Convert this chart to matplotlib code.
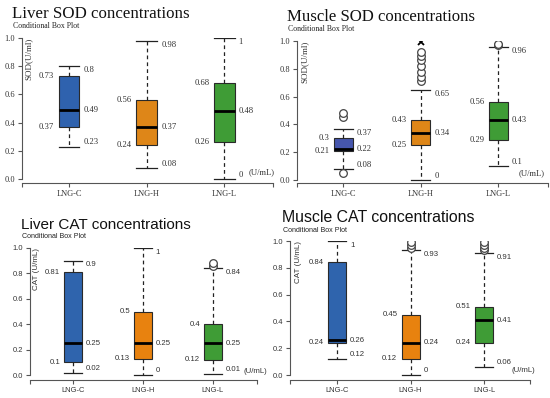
import matplotlib
matplotlib.use('Agg')
import matplotlib.pyplot as plt

W, H = 550, 398
categories = ['LNG-C', 'LNG-H', 'LNG-L']

# ---- data ----
liver_sod_low = [0.23, 0.08, 0.0]
liver_sod_q1 = [0.37, 0.24, 0.26]
liver_sod_med = [0.49, 0.37, 0.48]
liver_sod_q3 = [0.73, 0.56, 0.68]
liver_sod_high = [0.8, 0.98, 1.0]
liver_sod_out = [[], [], []]
liver_sod_extreme = [[], [], []]

muscle_sod_low = [0.08, 0.0, 0.1]
muscle_sod_q1 = [0.21, 0.25, 0.29]
muscle_sod_med = [0.22, 0.34, 0.43]
muscle_sod_q3 = [0.3, 0.43, 0.56]
muscle_sod_high = [0.37, 0.65, 0.96]
muscle_sod_out = [[0.05, 0.45, 0.48],
                  [0.71, 0.74, 0.78, 0.82, 0.86, 0.89, 0.92],
                  [0.97, 0.98]]
muscle_sod_extreme = [[], [0.99], []]

liver_cat_low = [0.02, 0.0, 0.01]
liver_cat_q1 = [0.1, 0.13, 0.12]
liver_cat_med = [0.25, 0.25, 0.25]
liver_cat_q3 = [0.81, 0.5, 0.4]
liver_cat_high = [0.9, 1.0, 0.84]
liver_cat_out = [[], [], [0.86, 0.88]]
liver_cat_extreme = [[], [], []]

muscle_cat_low = [0.12, 0.0, 0.06]
muscle_cat_q1 = [0.24, 0.12, 0.24]
muscle_cat_med = [0.26, 0.24, 0.41]
muscle_cat_q3 = [0.84, 0.45, 0.51]
muscle_cat_high = [1.0, 0.93, 0.91]
muscle_cat_out = [[], [0.95, 0.97, 0.99], [0.93, 0.95, 0.97, 0.99]]
muscle_cat_extreme = [[], [], []]

y_ticks = [0.0, 0.2, 0.4, 0.6, 0.8, 1.0]
y_tick_labels = ['0.0', '0.2', '0.4', '0.6', '0.8', '1.0']

panels = [
    dict(title='Liver SOD concentrations', ylabel='SOD(U/ml)',
         data=(liver_sod_low, liver_sod_q1, liver_sod_med, liver_sod_q3, liver_sod_high, liver_sod_out, liver_sod_extreme),
         px=(22, 273), py=(38, 183), xlim=(0.394, 3.63), ylim=(-0.028, 1.0),
         font='Liberation Serif', colors=['#2f62ae', '#de8618', '#3f9c36'],
         title_xy=(12, 18), title_size=12.2, sub_xy=(13, 28), ylab_xy=(29, 38),
         unit_xy=(3.31, 0.05), widths=0.27, fs=6.2, tfs=6.0, sub_fs=5.6, ylab_fs=6.5),
    dict(title='Muscle SOD concentrations', ylabel='SOD(U/ml)',
         data=(muscle_sod_low, muscle_sod_q1, muscle_sod_med, muscle_sod_q3, muscle_sod_high, muscle_sod_out, muscle_sod_extreme),
         px=(297, 548), py=(41, 183), xlim=(0.406, 3.645), ylim=(-0.022, 1.0),
         font='Liberation Serif', colors=['#4656ad', '#de8618', '#3f9c36'],
         title_xy=(287, 21), title_size=12.1, sub_xy=(288, 31), ylab_xy=(305, 41),
         unit_xy=(3.26, 0.05), widths=0.245, fs=6.2, tfs=6.0, sub_fs=5.6, ylab_fs=6.5),
    dict(title='Liver CAT concentrations', ylabel='CAT (U/mL)',
         data=(liver_cat_low, liver_cat_q1, liver_cat_med, liver_cat_q3, liver_cat_high, liver_cat_out, liver_cat_extreme),
         px=(30, 257), py=(248, 380), xlim=(0.386, 3.63), ylim=(-0.039, 1.0),
         font='Liberation Sans', colors=['#2f64ad', '#e8820f', '#3f9c36'],
         title_xy=(21, 229), title_size=11.0, sub_xy=(22, 238), ylab_xy=(37, 248),
         unit_xy=(3.44, 0.03), widths=0.25, fs=5.6, tfs=5.4, sub_fs=5.1, ylab_fs=5.8),
    dict(title='Muscle CAT concentrations', ylabel='CAT (U/mL)',
         data=(muscle_cat_low, muscle_cat_q1, muscle_cat_med, muscle_cat_q3, muscle_cat_high, muscle_cat_out, muscle_cat_extreme),
         px=(290, 530), py=(241, 380), xlim=(0.36, 3.626), ylim=(-0.037, 1.0),
         font='Liberation Sans', colors=['#2f64ad', '#e8820f', '#3f9c36'],
         title_xy=(282, 222), title_size=11.4, sub_xy=(283, 232), ylab_xy=(299, 241),
         unit_xy=(3.38, 0.037), widths=0.245, fs=5.6, tfs=5.4, sub_fs=5.1, ylab_fs=5.8),
]

fig = plt.figure(figsize=(W / 100, H / 100), dpi=100)
fig.patch.set_facecolor('white')

txt_color = '#333333'

for p in panels:
    x0, x1 = p['px']
    y0, y1 = p['py']
    ax = fig.add_axes([x0 / W, 1 - y1 / H, (x1 - x0) / W, (y1 - y0) / H])
    low, q1, med, q3, high, outs, extremes = p['data']
    fam = p['font']
    stats = []
    for i in range(len(categories)):
        stats.append(dict(whislo=low[i], q1=q1[i], med=med[i], q3=q3[i],
                          whishi=high[i], fliers=outs[i], label=categories[i]))
    pos = list(range(1, len(categories) + 1))
    bp = ax.bxp(stats, positions=pos, widths=p['widths'], patch_artist=True,
                showfliers=True, manage_ticks=False,
                boxprops=dict(edgecolor='#2a2a2a', linewidth=0.8),
                medianprops=dict(color='black', linewidth=2.0),
                whiskerprops=dict(color='#222222', linewidth=0.9, linestyle=(0, (3, 2.5))),
                capprops=dict(color='#222222', linewidth=0.9),
                capwidths=p['widths'],
                flierprops=dict(marker='o', markerfacecolor='white', markeredgecolor='#444444',
                                markersize=5.5, markeredgewidth=0.9))
    for patch, c in zip(bp['boxes'], p['colors']):
        patch.set_facecolor(c)
    for i, ex in enumerate(extremes):
        if ex:
            ax.plot([pos[i]] * len(ex), ex, linestyle='none', marker='x', color='black',
                    markersize=4.5, markeredgewidth=1.3, zorder=5)

    # value labels
    hw = p['widths'] / 2
    kw = dict(fontsize=p['fs'], color=txt_color, family=fam)
    for i in range(len(categories)):
        xl = pos[i] - hw
        xr = pos[i] + hw
        ax.annotate('{:g}'.format(q3[i]), (xl, q3[i]), xytext=(-3, 0), textcoords='offset points',
                    ha='right', va='center', **kw)
        ax.annotate('{:g}'.format(q1[i]), (xl, q1[i]), xytext=(-3, 0), textcoords='offset points',
                    ha='right', va='center', **kw)
        ax.annotate('{:g}'.format(med[i]), (xr, med[i]), xytext=(3, 0), textcoords='offset points',
                    ha='left', va='center', **kw)
        ax.annotate('{:g}'.format(high[i]), (xr, high[i]), xytext=(3, -3), textcoords='offset points',
                    ha='left', va='center', **kw)
        ax.annotate('{:g}'.format(low[i]), (xr, low[i]), xytext=(3, 3), textcoords='offset points',
                    ha='left', va='center', **kw)
    ax.text(p['unit_xy'][0], p['unit_xy'][1], '(U/mL)', ha='left', va='center', clip_on=False, **kw)

    ax.set_xlim(*p['xlim'])
    ax.set_ylim(*p['ylim'])
    for s in ['top', 'right']:
        ax.spines[s].set_visible(False)
    ax.spines['left'].set_bounds(0, 1)
    ax.spines['left'].set_color('#555555')
    ax.spines['bottom'].set_color('#555555')
    ax.spines['left'].set_linewidth(0.8)
    ax.spines['bottom'].set_linewidth(0.8)
    ax.set_yticks(y_ticks)
    ax.set_yticklabels(y_tick_labels)
    ax.set_xticks(pos)
    ax.set_xticklabels(categories)
    ax.set_xticks([p['xlim'][0], p['xlim'][1]], minor=True)
    ax.tick_params(axis='both', which='both', direction='out', length=3, width=0.8,
                   color='#555555', labelsize=p['tfs'], labelcolor=txt_color, pad=2)
    for lab in ax.get_xticklabels() + ax.get_yticklabels():
        lab.set_family(fam)
    ax.patch.set_alpha(0)

    fig.text(p['title_xy'][0] / W, 1 - p['title_xy'][1] / H, p['title'], fontsize=p['title_size'],
             family=fam, color='#111111', ha='left', va='baseline')
    fig.text(p['sub_xy'][0] / W, 1 - p['sub_xy'][1] / H, 'Conditional Box Plot', fontsize=p['sub_fs'],
             family=fam, color='#222222', ha='left', va='baseline')
    fig.text(p['ylab_xy'][0] / W, 1 - p['ylab_xy'][1] / H, p['ylabel'], fontsize=p['ylab_fs'],
             family=fam, color=txt_color, ha='center', va='top', rotation=90)

fig.savefig('out.png', dpi=100, facecolor='white')
